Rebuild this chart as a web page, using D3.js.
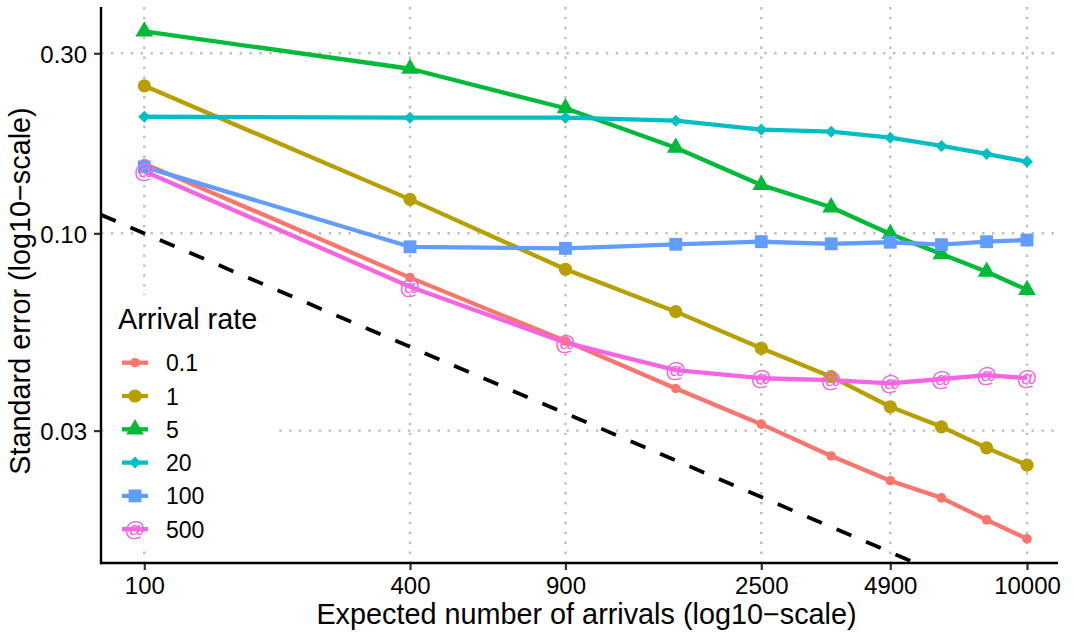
<!DOCTYPE html>
<html>
<head>
<meta charset="utf-8">
<script src="https://cdn.jsdelivr.net/npm/d3@7/dist/d3.min.js"></script>
<style>
  body { margin: 0; background: #fff; }
  text { font-family: "Liberation Sans", Arial, sans-serif; fill: #000; }
  .tick text { font-size: 24px; fill: #000; }
  .tick line { stroke: #333; stroke-width: 2.2; }
</style>
</head>
<body>
<div id="chart"></div>
<script>

// expected number of arrivals (x) and arrival rates (groups)
var arrivals = [100, 400, 900, 1600, 2500, 3600, 4900, 6400, 8100, 10000];
var rates = ["0.1", "1", "5", "20", "100", "500"];

// standard error per arrival rate
var se_0_1 = [0.153, 0.0763, 0.0518, 0.0388, 0.0312, 0.0257, 0.0221, 0.0199, 0.0174, 0.0155];
var se_1   = [0.246, 0.123, 0.0803, 0.0620, 0.0496, 0.0417, 0.0347, 0.0307, 0.0270, 0.0243];
var se_5   = [0.343, 0.273, 0.2145, 0.1686, 0.1343, 0.1172, 0.0996, 0.0881, 0.0791, 0.0708];
var se_20  = [0.2037, 0.2025, 0.2025, 0.1988, 0.1883, 0.1859, 0.1792, 0.1704, 0.1623, 0.1548];
var se_100 = [0.150, 0.0921, 0.0912, 0.0935, 0.0950, 0.0938, 0.0947, 0.0933, 0.0950, 0.0960];
var se_500 = [0.146, 0.0722, 0.0513, 0.0434, 0.0413, 0.0408, 0.0400, 0.0411, 0.0421, 0.0413];

var xTicks = [100, 400, 900, 2500, 4900, 10000];
var yTicks = [0.03, 0.10, 0.30];
var yTickLabels = ["0.03", "0.10", "0.30"];

// reference line 1/sqrt(N) : log10(se) = intercept + slope*log10(N)
var refSlope = -0.5, refIntercept = 0;

var colors = ["#F8766D", "#B79F00", "#00BA38", "#00BFC4", "#619CFF", "#F564E3"];
var shapes = ["bullet", "circle", "triangle", "diamond", "square", "at"];

var seriesValues = [se_0_1, se_1, se_5, se_20, se_100, se_500];
var series = rates.map(function(r, i) {
  return {
    rate: r, color: colors[i], shape: shapes[i],
    values: arrivals.map(function(n, j) { return {n: n, se: seriesValues[i][j]}; })
  };
});

var width = 1074, height = 637;
var panel = {left: 101, right: 1058, top: 7, bottom: 563};

var x = d3.scaleLog().domain([100, 10000]).range([144.3, 1027]);
var y = d3.scaleLog().domain([0.03, 0.3]).range([430.6, 53.3]);

var svg = d3.select("#chart").append("svg")
  .attr("width", width)
  .attr("height", height);

svg.append("clipPath").attr("id", "clip")
  .append("rect")
  .attr("x", panel.left).attr("y", panel.top)
  .attr("width", panel.right - panel.left)
  .attr("height", panel.bottom - panel.top);

// grid
var grid = svg.append("g").attr("class", "grid");
grid.selectAll(".vg").data(xTicks).enter().append("line")
  .attr("x1", function(d) { return x(d); }).attr("x2", function(d) { return x(d); })
  .attr("y1", panel.top).attr("y2", panel.bottom)
  .attr("stroke", "#bdbdbd").attr("stroke-width", 2.4)
  .attr("stroke-dasharray", "2.4,7.5");
grid.selectAll(".hg").data(yTicks).enter().append("line")
  .attr("x1", panel.left).attr("x2", panel.right)
  .attr("y1", function(d) { return y(d); }).attr("y2", function(d) { return y(d); })
  .attr("stroke", "#bdbdbd").attr("stroke-width", 2.4)
  .attr("stroke-dasharray", "2.4,7.5");

var plot = svg.append("g").attr("clip-path", "url(#clip)");

// dashed reference line across the panel
var xDom = [x.invert(panel.left), x.invert(panel.right)];
plot.append("line")
  .attr("x1", x(xDom[0]))
  .attr("y1", y(Math.pow(10, refIntercept + refSlope * Math.log10(xDom[0]))))
  .attr("x2", x(xDom[1]))
  .attr("y2", y(Math.pow(10, refIntercept + refSlope * Math.log10(xDom[1]))))
  .attr("stroke", "#000").attr("stroke-width", 3.8)
  .attr("stroke-dasharray", "16,16");

var line = d3.line()
  .x(function(d) { return x(d.n); })
  .y(function(d) { return y(d.se); });

plot.selectAll(".series").data(series).enter().append("path")
  .attr("d", function(d) { return line(d.values); })
  .attr("fill", "none")
  .attr("stroke", function(d) { return d.color; })
  .attr("stroke-width", 4.3)
  .attr("stroke-linejoin", "round");

function drawMarker(g, shape, color) {
  if (shape == "bullet") {
    g.append("circle").attr("r", 4.8).attr("fill", color);
  } else if (shape == "circle") {
    g.append("circle").attr("r", 6.6).attr("fill", color);
  } else if (shape == "triangle") {
    g.append("path").attr("d", d3.symbol().type(d3.symbolTriangle).size(135)()).attr("fill", color);
  } else if (shape == "diamond") {
    g.append("path").attr("d", d3.symbol().type(d3.symbolSquare).size(72)())
      .attr("transform", "rotate(45)").attr("fill", color);
  } else if (shape == "square") {
    g.append("path").attr("d", d3.symbol().type(d3.symbolSquare).size(165)()).attr("fill", color);
  } else {
    g.append("text").text("@")
      .attr("text-anchor", "middle").attr("dy", "0.33em")
      .style("font-size", "21px").style("fill", color);
  }
}

series.forEach(function(s) {
  plot.selectAll(null).data(s.values).enter().append("g")
    .attr("transform", function(d) { return "translate(" + x(d.n) + "," + y(d.se) + ")"; })
    .each(function() { drawMarker(d3.select(this), s.shape, s.color); });
});

// axes
var xAxis = d3.axisBottom(x).tickValues(xTicks).tickFormat(function(d) { return d; })
  .tickSize(7).tickPadding(7);
var gx = svg.append("g")
  .attr("transform", "translate(0," + panel.bottom + ")")
  .call(xAxis);
gx.select(".domain").remove();

var yAxis = d3.axisLeft(y).tickValues(yTicks)
  .tickFormat(function(d, i) { return yTickLabels[i]; })
  .tickSize(7).tickPadding(7);
var gy = svg.append("g")
  .attr("transform", "translate(" + panel.left + ",0)")
  .call(yAxis);
gy.select(".domain").remove();
gy.selectAll(".tick text").attr("dy", "0.37em");

svg.append("line")
  .attr("x1", panel.left).attr("x2", panel.right)
  .attr("y1", panel.bottom).attr("y2", panel.bottom)
  .attr("stroke", "#000").attr("stroke-width", 2.4);
svg.append("line")
  .attr("x1", panel.left).attr("x2", panel.left)
  .attr("y1", panel.top).attr("y2", panel.bottom + 1.2)
  .attr("stroke", "#000").attr("stroke-width", 2.4);

// titles
svg.append("text")
  .attr("x", (panel.left + panel.right) / 2 + 7)
  .attr("y", 624)
  .attr("text-anchor", "middle")
  .style("font-size", "28.8px")
  .text("Expected number of arrivals (log10\u2212scale)");

svg.append("text")
  .attr("transform", "translate(30," + 291 + ") rotate(-90)")
  .attr("text-anchor", "middle")
  .style("font-size", "28.8px")
  .text("Standard error (log10\u2212scale)");

// legend
var legend = svg.append("g").attr("class", "legend");
legend.append("rect")
  .attr("x", 104).attr("y", 295).attr("width", 173).attr("height", 253)
  .attr("fill", "#fff");
legend.append("text")
  .attr("x", 118).attr("y", 329)
  .style("font-size", "28.8px")
  .text("Arrival rate");

var keys = legend.selectAll(".key").data(series).enter().append("g")
  .attr("transform", function(d, i) { return "translate(135," + (362.7 + i * 33.3) + ")"; });
keys.append("line")
  .attr("x1", -13).attr("x2", 13)
  .attr("stroke", function(d) { return d.color; })
  .attr("stroke-width", 4.3);
keys.each(function(d) { drawMarker(d3.select(this), d.shape, d.color); });
keys.append("text")
  .attr("x", 31).attr("dy", "0.37em")
  .style("font-size", "23px")
  .text(function(d) { return d.rate; });

</script>
</body>
</html>
